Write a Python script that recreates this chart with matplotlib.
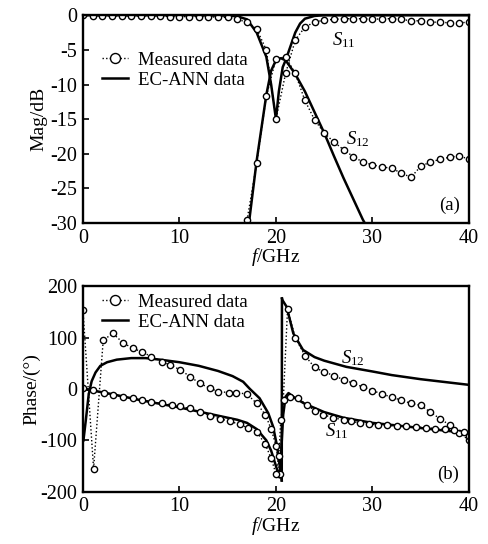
#!/usr/bin/env python3
"""Filter S-parameters: measured vs EC-ANN model, magnitude and phase."""

import matplotlib

matplotlib.use("Agg")
import matplotlib.pyplot as plt

# ---- (a) magnitude, dB ----
s11_meas_f = [0, 1, 2, 3, 4, 5, 6, 7, 8, 9, 10, 11, 12, 13, 14, 15, 16, 17, 18, 19, 20,
              21, 22, 23, 24, 25, 26, 27, 28, 29, 30, 31, 32, 33, 34, 35, 36, 37, 38, 39, 40]
s11_meas_db = [0, -0.1, -0.1, -0.1, -0.1, -0.1, -0.1, -0.1, -0.1, -0.2, -0.2, -0.2, -0.2, -0.2,
               -0.3, -0.3, -0.6, -1.0, -2.0, -5.0, -15.0, -8.4, -3.6, -1.7, -1.0, -0.7, -0.6,
               -0.5, -0.5, -0.5, -0.6, -0.5, -0.5, -0.6, -0.8, -0.8, -1.0, -1.0, -1.1, -1.1, -1.0]

s12_meas_f = [17, 18, 19, 20, 21, 22, 23, 24, 25, 26, 27, 28, 29, 30, 31, 32, 33, 34, 35, 36,
              37, 38, 39, 40]
s12_meas_db = [-29.6, -21.4, -11.7, -6.3, -6.0, -8.4, -12.3, -15.1, -17.0, -18.3, -19.4, -20.4,
               -21.2, -21.6, -21.9, -22.1, -22.8, -23.4, -21.8, -21.2, -20.8, -20.5, -20.3, -20.8]

s11_model_f = [0, 10, 15, 16, 17, 18, 19, 19.5, 20, 20.3, 20.7, 21.0, 21.5, 22, 22.5, 23, 24, 25, 40]
s11_model_db = [0, 0, -0.05, -0.15, -0.6, -2.5, -6.0, -10.0, -15.0, -11.0, -7.5, -6.5, -4.5,
                -2.5, -1.2, -0.5, -0.1, 0, 0]

s12_model_f = [16.5, 17.2, 18, 19, 19.5, 20, 20.5, 21, 21.5, 22, 23, 24, 25, 26, 27, 28, 29, 30]
s12_model_db = [-36, -30, -21, -11.5, -8.0, -6.5, -6.2, -6.5, -7.5, -8.5, -11.0, -14.0, -17.0,
                -20.3, -23.5, -26.5, -29.5, -32]

# ---- (b) phase, degrees ----
s12_meas_ph_f = [0, 1.1, 2.1, 3.1, 4.2, 5.2, 6.1, 7.1, 8.2, 9.0, 10.1, 11.1, 12.1, 13.2, 14.0,
                 15.1, 15.9, 17.0, 18.0, 18.9, 19.5, 20.0, 20.4, 21.2, 22.0, 23.0, 24.0, 25.0,
                 26.0, 27.0, 28.0, 29.0, 30.0, 31.0, 32.0, 33.0, 34.0, 35.0, 36.0, 37.0, 38.0,
                 39.0, 40.0]
s12_meas_ph = [153, -155, 95, 108, 89, 79, 72, 63, 53, 47, 37, 24, 11, 1, -5, -7, -7, -10, -28,
               -50, -78, -110, -165, 155, 100, 65, 42, 33, 26, 18, 11, 4, -3, -10, -16, -22, -28,
               -32, -45, -58, -70, -85, -100]

s11_meas_ph_f = [0, 1, 2.2, 3.1, 4.2, 5.2, 6.1, 7.1, 8.2, 9.2, 10.1, 11.1, 12.1, 13.2, 14.2, 15.2,
                 16.3, 17.1, 18.0, 18.9, 19.5, 20.0, 20.3, 20.5, 20.8, 21.5, 22.3, 23.2, 24.0,
                 24.9, 25.9, 27.0, 27.8, 28.7, 29.6, 30.6, 31.5, 32.5, 33.5, 34.5, 35.5, 36.5,
                 37.5, 38.5, 39.5, 40.0]
s11_meas_ph = [2, -2, -8, -12, -15, -18, -21, -25, -28, -31, -34, -38, -45, -52, -58, -63, -69,
               -76, -83, -108, -135, -165, -130, -60, -21, -15, -18, -31, -42, -50, -56, -60,
               -63, -66, -68, -70, -71, -72, -73, -74, -75, -77, -78, -80, -84, -92]

s12_model_ph_f = [0.05, 0.3, 0.6, 0.9, 1.3, 1.8, 2.5, 3.5, 5, 6.5, 8, 10, 12, 14, 15.5, 16.6,
                  17.3, 18.3, 19.2, 19.7, 20.1, 20.4, 20.6]
s12_model_ph = [-100, -60, -10, 15, 32, 45, 52, 57, 60, 60, 57, 52, 45, 35, 25, 14, 0, -18, -47,
                -73, -110, -150, -178]
s12_model_ph2_f = [20.62, 20.7, 21.1, 21.8, 22.8, 24, 25, 27.3, 30, 32, 35, 40]
s12_model_ph2 = [176, 172, 160, 108, 76, 62, 55, 43, 34, 27, 19, 8]

s11_model_ph_f = [0, 1, 3, 6, 10, 14, 16, 17, 18, 19, 19.5, 20, 20.35, 20.55, 20.75, 21.0, 21.3,
                  22, 23, 25, 27, 30, 33.5, 37, 40]
s11_model_ph = [0, -3, -10, -22, -36, -52, -60, -66, -78, -100, -120, -150, -172, -120, -50, -15,
                -8, -18, -29, -45, -56, -66, -73, -80, -86]

plt.rcParams["font.family"] = ["Liberation Serif", "DejaVu Serif"]
plt.rcParams["axes.unicode_minus"] = False
plt.rcParams["mathtext.fontset"] = "custom"
plt.rcParams["mathtext.rm"] = "Liberation Serif"
plt.rcParams["mathtext.it"] = "Liberation Serif:italic"

FS = 13.5
TICK_FS = 14.5
meas_kw = dict(color="black", linestyle=(0, (1, 1.6)), linewidth=1.0, marker="o",
               markersize=4.5, markerfacecolor="white", markeredgecolor="black",
               markeredgewidth=1.0)
model_kw = dict(color="black", linewidth=1.8)


def style_axes(ax, ylim, yticks):
    ax.set_xlim(0, 40)
    ax.set_ylim(*ylim)
    ax.set_xticks([0, 10, 20, 30, 40])
    ax.set_yticks(yticks)
    ax.tick_params(direction="in", length=4, width=1.2, labelsize=TICK_FS, pad=4)
    for spine in ax.spines.values():
        spine.set_linewidth(1.7)
    ax.set_xlabel("$f$/GHz", fontsize=14, labelpad=-1)


fig = plt.figure(figsize=(4.88, 5.44), dpi=100)

# (a) magnitude
ax1 = fig.add_axes([0.170, 0.590, 0.791, 0.382])
ax1.plot(s11_model_f, s11_model_db, **model_kw)
ax1.plot(s12_model_f, s12_model_db, **model_kw)
m1, = ax1.plot(s11_meas_f, s11_meas_db, **meas_kw)
ax1.plot(s12_meas_f, s12_meas_db, **meas_kw)
style_axes(ax1, (-30, 0), [0, -5, -10, -15, -20, -25, -30])
ax1.set_ylabel("Mag/dB", fontsize=14, labelpad=2)
ax1.text(27.0, -3.6, "$S_{11}$", fontsize=FS, ha="center", va="center")
ax1.text(28.5, -17.9, "$S_{12}$", fontsize=FS, ha="center", va="center")
ax1.text(38.0, -27.4, "(a)", fontsize=FS, ha="center", va="center")
l1, = ax1.plot([], [], **model_kw)
ax1.legend([m1, l1], ["Measured data", "EC-ANN data"], loc="upper left",
           bbox_to_anchor=(0.03, 0.86), frameon=False, fontsize=FS, handlelength=1.4,
           handletextpad=0.5, labelspacing=0.15, borderaxespad=0, markerscale=1.6)

# (b) phase
ax2 = fig.add_axes([0.170, 0.096, 0.791, 0.378])
ax2.plot(s12_model_ph_f, s12_model_ph, **model_kw)
ax2.plot([20.6, 20.62], [-178, 176], **model_kw)
ax2.plot(s12_model_ph2_f, s12_model_ph2, **model_kw)
ax2.plot(s11_model_ph_f, s11_model_ph, **model_kw)
m2, = ax2.plot(s12_meas_ph_f, s12_meas_ph, **meas_kw)
ax2.plot(s11_meas_ph_f, s11_meas_ph, **meas_kw)
style_axes(ax2, (-200, 200), [200, 100, 0, -100, -200])
ax2.set_ylabel("Phase/(°)", fontsize=14, labelpad=0)
ax2.text(28.0, 60, "$S_{12}$", fontsize=FS, ha="center", va="center")
ax2.text(26.3, -82, "$S_{11}$", fontsize=FS, ha="center", va="center")
ax2.text(37.8, -167, "(b)", fontsize=FS, ha="center", va="center")
l2, = ax2.plot([], [], **model_kw)
ax2.legend([m2, l2], ["Measured data", "EC-ANN data"], loc="upper left",
           bbox_to_anchor=(0.03, 1.0), frameon=False, fontsize=FS, handlelength=1.4,
           handletextpad=0.5, labelspacing=0.15, borderaxespad=0, markerscale=1.6)

fig.savefig("out.png", dpi=100)
